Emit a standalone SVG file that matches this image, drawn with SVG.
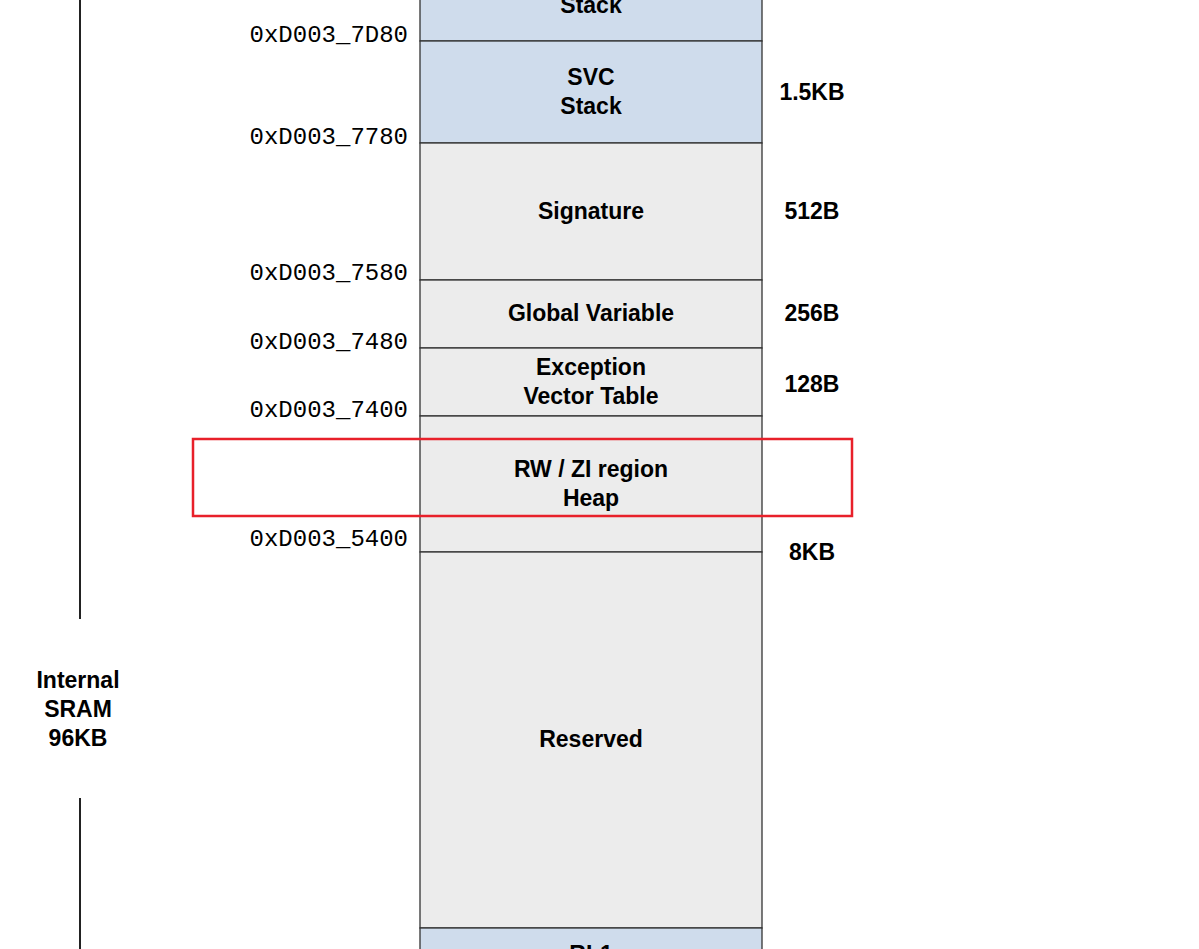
<svg xmlns="http://www.w3.org/2000/svg" width="1199" height="949" viewBox="0 0 1199 949">
<style>
.blk{stroke:#333;stroke-width:1.3}
.blue{fill:#cfdcec}
.gray{fill:#ececec}
.lbl{font-family:"Liberation Sans",Arial,sans-serif;font-weight:bold;font-size:23px;fill:#000;text-anchor:middle}
.addr{font-family:"Liberation Mono","Courier New",monospace;font-size:24px;fill:#000;text-anchor:end}
</style>
<rect width="1199" height="949" fill="#fff"/>
<g id="stack-top"><rect class="blk blue" x="420" y="-5" width="342" height="46"/><text class="lbl" x="591" y="13">Stack</text></g>
<g id="svc-stack"><rect class="blk blue" x="420" y="41" width="342" height="102"/><text class="lbl" x="591" y="85">SVC</text><text class="lbl" x="591" y="114">Stack</text></g>
<g id="signature"><rect class="blk gray" x="420" y="143" width="342" height="137"/><text class="lbl" x="591" y="219">Signature</text></g>
<g id="global-var"><rect class="blk gray" x="420" y="280" width="342" height="68"/><text class="lbl" x="591" y="321">Global Variable</text></g>
<g id="exception"><rect class="blk gray" x="420" y="348" width="342" height="68"/><text class="lbl" x="591" y="375">Exception</text><text class="lbl" x="591" y="404">Vector Table</text></g>
<g id="rwzi"><rect class="blk gray" x="420" y="416" width="342" height="136"/><text class="lbl" x="591" y="477">RW / ZI region</text><text class="lbl" x="591" y="506">Heap</text></g>
<g id="reserved"><rect class="blk gray" x="420" y="552" width="342" height="376"/><text class="lbl" x="591" y="747">Reserved</text></g>
<g id="rl1"><rect class="blk blue" x="420" y="928" width="342" height="30"/><text class="lbl" x="591" y="962">RL1</text></g>
<g id="addresses">
<text class="addr" x="408" y="42">0xD003_7D80</text>
<text class="addr" x="408" y="144">0xD003_7780</text>
<text class="addr" x="408" y="280">0xD003_7580</text>
<text class="addr" x="408" y="349">0xD003_7480</text>
<text class="addr" x="408" y="417">0xD003_7400</text>
<text class="addr" x="408" y="546">0xD003_5400</text>
</g>
<g id="sizes">
<text class="lbl" x="812" y="100">1.5KB</text>
<text class="lbl" x="812" y="219">512B</text>
<text class="lbl" x="812" y="321">256B</text>
<text class="lbl" x="812" y="392">128B</text>
<text class="lbl" x="812" y="560">8KB</text>
</g>
<g id="sram"><text class="lbl" x="78" y="688">Internal</text><text class="lbl" x="78" y="717">SRAM</text><text class="lbl" x="78" y="746">96KB</text></g>
<g id="connectors">
<line x1="80" y1="0" x2="80" y2="619" stroke="#222" stroke-width="2"/>
<line x1="80" y1="798" x2="80" y2="949" stroke="#222" stroke-width="2"/>
</g>
<g id="highlight"><rect x="193" y="439" width="659" height="77" fill="none" stroke="#e8202a" stroke-width="2.5"/></g>
</svg>
